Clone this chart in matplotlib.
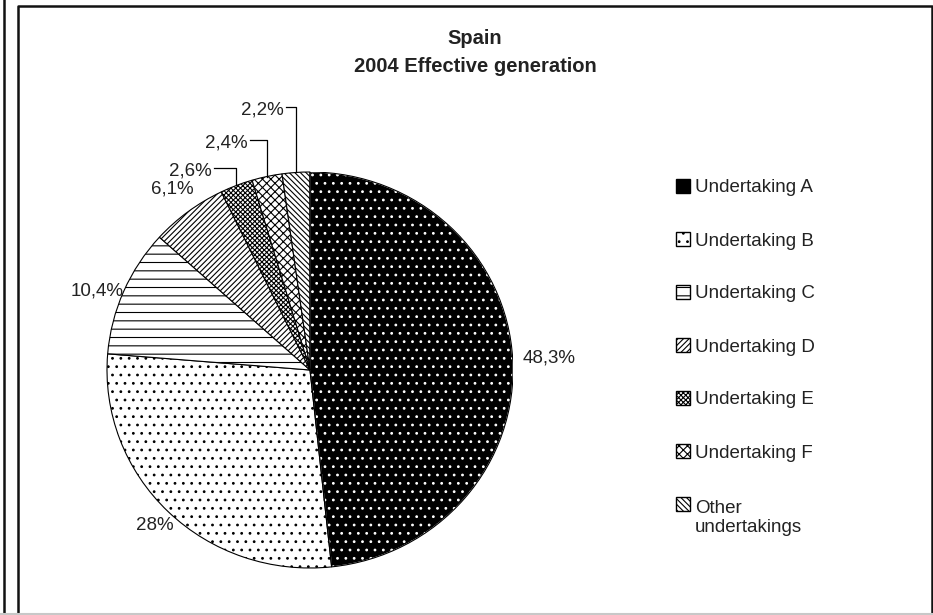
import matplotlib
matplotlib.use("Agg")
import matplotlib.pyplot as plt
from matplotlib.patches import Wedge, Rectangle
from matplotlib.lines import Line2D
import numpy as np

plt.rcParams['font.family'] = ['Liberation Sans', 'DejaVu Sans']
plt.rcParams['hatch.linewidth'] = 0.8

# data
title_lines = ["Spain", "2004 Effective generation"]
undertakings = ["Undertaking A", "Undertaking B", "Undertaking C", "Undertaking D",
                "Undertaking E", "Undertaking F", "Other\nundertakings"]
shares = [48.3, 28.0, 10.4, 6.1, 2.6, 2.4, 2.2]

# styling per slice
faces = ['black', 'white', 'white', 'white', 'white', 'white', 'white']
hatches = ['..', '..', '--', '//////', 'xxxxxxx', 'xxxx', '\\' * 6]
hatch_colors = ['white', 'black', 'black', 'black', 'black', 'black', 'black']

# label layout (pie data coords) - small slices get leader lines
label_xy = [(1.177, 0.061), (-0.764, -0.783), (-1.049, 0.399), (-0.680, 0.914),
            (-0.483, 1.005), (-0.305, 1.146), (-0.128, 1.313)]
label_ha = ['center', 'center', 'center', 'center', 'right', 'right', 'right']
has_leader = [False, False, False, False, True, True, True]

W, H = 933, 615
fig = plt.figure(figsize=(W / 100, H / 100), dpi=100)


def fx(x):
    return x / W


def fy(y):
    return 1 - y / H


def pct(v):
    return f"{v:g}".replace('.', ',') + "%"


# pie centre (310, 370) px, radii 203 x 198 px
ax = fig.add_axes([fx(310 - 203), fy(370 + 198), 406 / W, 396 / H])
wedges, _ = ax.pie(shares, startangle=90, counterclock=False, colors=faces,
                   hatch=hatches, wedgeprops=dict(edgecolor='black', linewidth=0.8))
for w, hc in zip(wedges, hatch_colors):
    if hc != 'black':
        # hatch takes the edge colour, so redraw the outline on top
        w.set_edgecolor(hc)
        ax.add_patch(Wedge(w.center, w.r, w.theta1, w.theta2, fill=False,
                           edgecolor='black', linewidth=0.8))
ax.set_xlim(-1, 1)
ax.set_ylim(-1, 1)
ax.set_aspect('auto')
ax.axis('off')

for w, v, (lx, ly), ha, lead in zip(wedges, shares, label_xy, label_ha, has_leader):
    ax.text(lx, ly, pct(v), ha=ha, va='center', fontsize=13.5, color='#222222')
    if lead:
        mid = np.deg2rad((w.theta1 + w.theta2) / 2)
        ex, ey = np.cos(mid), np.sin(mid)
        ax.plot([lx + 0.01, ex, ex], [ly + 0.015, ly + 0.015, ey], color='black',
                linewidth=0.9, clip_on=False)

# title
fig.text(fx(475), fy(38), title_lines[0], ha='center', va='center',
         fontsize=14.5, fontweight='bold', color='#222222')
fig.text(fx(475), fy(67), title_lines[1], ha='center', va='center',
         fontsize=14.5, fontweight='bold', color='#222222')

# legend drawn by hand
for i, name in enumerate(undertakings):
    yc = 186 + 53 * i
    extra = name.count('\n') * 21  # baseline sits on the last line
    sw = Rectangle((fx(676), fy(yc + 7)), 14 / W, 14 / H, transform=fig.transFigure,
                   facecolor=faces[i], edgecolor='black', hatch=hatches[i] if i > 0 else None,
                   linewidth=1.0)
    fig.add_artist(sw)
    fig.text(fx(695), fy(yc + 6.5 + extra), name, ha='left', va='baseline', fontsize=13.5,
             color='#222222', linespacing=1.1)

# panel frames
fig.add_artist(Line2D([fx(4), fx(4)], [0, 1], color='#111111', linewidth=1.8))
fig.add_artist(Line2D([fx(17.5), fx(17.5), fx(931.5), fx(931.5)], [0, fy(5.5), fy(5.5), 0],
                      color='#111111', linewidth=1.8))
fig.add_artist(Line2D([0, 1], [fy(613.5), fy(613.5)], color='#c8c8c8', linewidth=1.5))

fig.savefig('out.png', dpi=100)
